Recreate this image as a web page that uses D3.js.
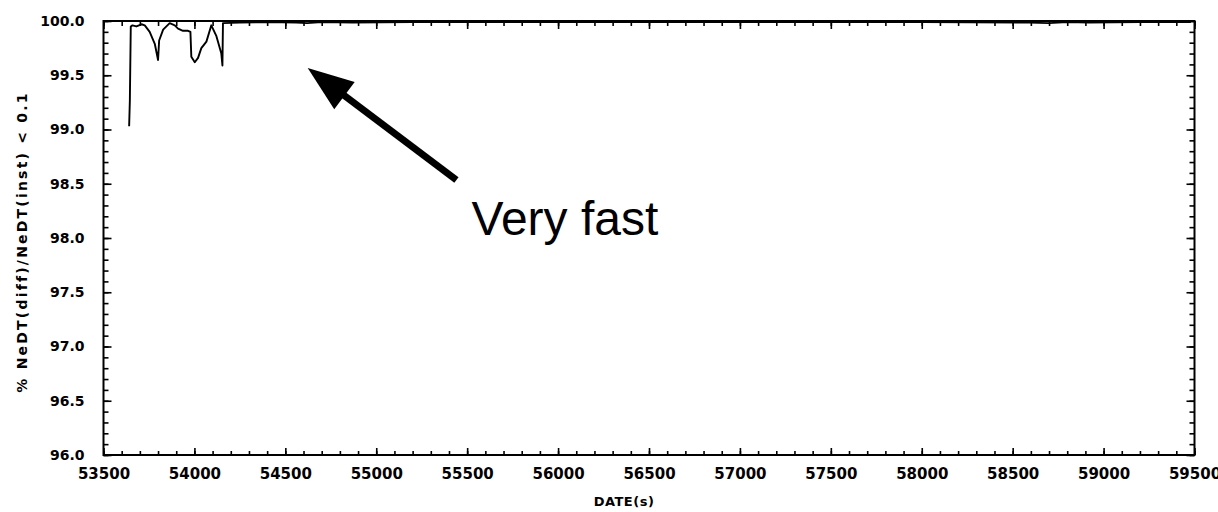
<!DOCTYPE html>
<html>
<head>
<meta charset="utf-8">
<script src="https://cdn.jsdelivr.net/npm/d3@7"></script>
<style>
  html, body { margin: 0; padding: 0; background: #fff; }
  svg { display: block; }
  .tick text { font-family: "DejaVu Sans", sans-serif; font-weight: bold; fill: #000; }
</style>
</head>
<body>
<svg id="chart" width="1218" height="512"></svg>
<script>
// ---------------- data ----------------
const times = [53641, 53645, 53650, 53659, 53681, 53709, 53727, 53754, 53782, 53800,
               53806, 53828, 53864, 53892, 53910, 53937, 53965, 53978, 53983, 54002,
               54020, 54038, 54066, 54093, 54121, 54148, 54154, 54157, 54250, 54400,
               54560, 54620, 54700, 54870, 55200, 55600, 56000, 56500, 57000, 57500,
               58000, 58590, 58700, 58800, 58920, 59200, 59480];
const values = [99.03, 99.27, 99.95, 99.96, 99.95, 99.97, 99.96, 99.90, 99.79, 99.64,
                99.82, 99.92, 99.98, 99.96, 99.93, 99.91, 99.91, 99.90, 99.67, 99.62,
                99.66, 99.75, 99.81, 99.96, 99.86, 99.70, 99.59, 99.98, 99.985, 99.99,
                99.985, 99.98, 99.99, 99.985, 99.99, 99.99, 99.99, 99.99, 99.99, 99.99,
                99.99, 99.985, 99.98, 99.99, 99.985, 99.99, 99.99];

const xMajorTicks = [53500, 54000, 54500, 55000, 55500, 56000, 56500, 57000, 57500, 58000, 58500, 59000, 59500];
const yMajorTicks = [96.0, 96.5, 97.0, 97.5, 98.0, 98.5, 99.0, 99.5, 100.0];
const xDomain = [53500, 59500];
const yDomain = [96, 100];
const xTitle = "DATE(s)";
const yTitle = "% NeDT(diff)/NeDT(inst) < 0.1";
const annotationText = "Very fast";
// annotation anchor points in data units
const arrowTip = [54623, 99.567];
const arrowTail = [55441, 98.535];
const annotationPos = [55524, 98.03];

// ---------------- layout ----------------
const svg = d3.select("#chart");
const mLeft = 103.5, mRight = 1194.5, mTop = 21, mBottom = 455;

const x = d3.scaleLinear().domain(xDomain).range([mLeft, mRight]);
const y = d3.scaleLinear().domain(yDomain).range([mBottom, mTop]);

const xMinor = d3.range(xDomain[0], xDomain[1] + 1, 100);
const yMinor = d3.range(0, 41).map(i => +(yDomain[0] + i * 0.1).toFixed(1));

const fmtY = d3.format(".1f");

function styleAxis(g) {
  g.select(".domain").remove();
  g.selectAll(".tick line").attr("stroke", "#000").attr("stroke-width", 1.6);
}

// bottom
svg.append("g").attr("transform", `translate(0,${mBottom})`)
  .call(d3.axisBottom(x).tickValues(xMinor).tickFormat("").tickSizeInner(-4).tickSizeOuter(0))
  .call(styleAxis);
svg.append("g").attr("transform", `translate(0,${mBottom})`)
  .call(d3.axisBottom(x).tickValues(xMajorTicks).tickFormat(d3.format("d")).tickSizeInner(-7).tickSizeOuter(0).tickPadding(13))
  .call(styleAxis)
  .selectAll("text").style("font-size", "15px");
// top
svg.append("g").attr("transform", `translate(0,${mTop})`)
  .call(d3.axisTop(x).tickValues(xMinor).tickFormat("").tickSizeInner(-5).tickSizeOuter(0))
  .call(styleAxis);
svg.append("g").attr("transform", `translate(0,${mTop})`)
  .call(d3.axisTop(x).tickValues(xMajorTicks).tickFormat("").tickSizeInner(-8).tickSizeOuter(0))
  .call(styleAxis);
// left
svg.append("g").attr("transform", `translate(${mLeft},0)`)
  .call(d3.axisLeft(y).tickValues(yMinor).tickFormat("").tickSizeInner(-5).tickSizeOuter(0))
  .call(styleAxis);
svg.append("g").attr("transform", `translate(${mLeft},0)`)
  .call(d3.axisLeft(y).tickValues(yMajorTicks).tickFormat(fmtY).tickSizeInner(-8).tickSizeOuter(0).tickPadding(19))
  .call(styleAxis)
  .selectAll("text").style("font-size", "14px");
// right
svg.append("g").attr("transform", `translate(${mRight},0)`)
  .call(d3.axisRight(y).tickValues(yMinor).tickFormat("").tickSizeInner(-5).tickSizeOuter(0))
  .call(styleAxis);
svg.append("g").attr("transform", `translate(${mRight},0)`)
  .call(d3.axisRight(y).tickValues(yMajorTicks).tickFormat("").tickSizeInner(-8).tickSizeOuter(0))
  .call(styleAxis);

// frame
svg.append("rect")
  .attr("x", mLeft).attr("y", mTop)
  .attr("width", mRight - mLeft).attr("height", mBottom - mTop)
  .attr("fill", "none").attr("stroke", "#000").attr("stroke-width", 2);

// data line
const pts = times.map((t, i) => [t, values[i]]);
svg.append("path")
  .datum(pts)
  .attr("fill", "none")
  .attr("stroke", "#000")
  .attr("stroke-width", 1.9)
  .attr("stroke-linejoin", "round")
  .attr("d", d3.line().x(d => x(d[0])).y(d => y(d[1])));

// axis titles
svg.append("text")
  .attr("x", 624).attr("y", 506)
  .attr("text-anchor", "middle")
  .style("font-family", "DejaVu Sans, sans-serif")
  .style("font-weight", "bold")
  .style("font-size", "13px")
  .style("letter-spacing", "0.5px")
  .text(xTitle);

svg.append("text")
  .attr("transform", `translate(27,${(mTop + mBottom) / 2 + 4}) rotate(-90)`)
  .attr("text-anchor", "middle")
  .style("font-family", "DejaVu Sans, sans-serif")
  .style("font-weight", "bold")
  .style("font-size", "14px")
  .style("letter-spacing", "2.2px")
  .text(yTitle);

// annotation arrow
const tip = [x(arrowTip[0]), y(arrowTip[1])];
const tail = [x(arrowTail[0]), y(arrowTail[1])];
const dx = tip[0] - tail[0], dy = tip[1] - tail[1];
const len = Math.hypot(dx, dy);
const ux = dx / len, uy = dy / len;
const headLen = 46, headHalf = 17;
const base = [tip[0] - ux * headLen, tip[1] - uy * headLen];
svg.append("line")
  .attr("x1", tail[0]).attr("y1", tail[1])
  .attr("x2", base[0] + ux * 4).attr("y2", base[1] + uy * 4)
  .attr("stroke", "#000").attr("stroke-width", 7);
svg.append("path")
  .attr("d", d3.line()([
    tip,
    [base[0] - uy * headHalf, base[1] + ux * headHalf],
    [base[0] + uy * headHalf, base[1] - ux * headHalf]
  ]) + "Z")
  .attr("fill", "#000");

svg.append("text")
  .attr("x", x(annotationPos[0])).attr("y", y(annotationPos[1]))
  .style("font-family", "Liberation Sans, Arial, sans-serif")
  .style("font-size", "48px")
  .attr("fill", "#000")
  .text(annotationText);
</script>
</body>
</html>
